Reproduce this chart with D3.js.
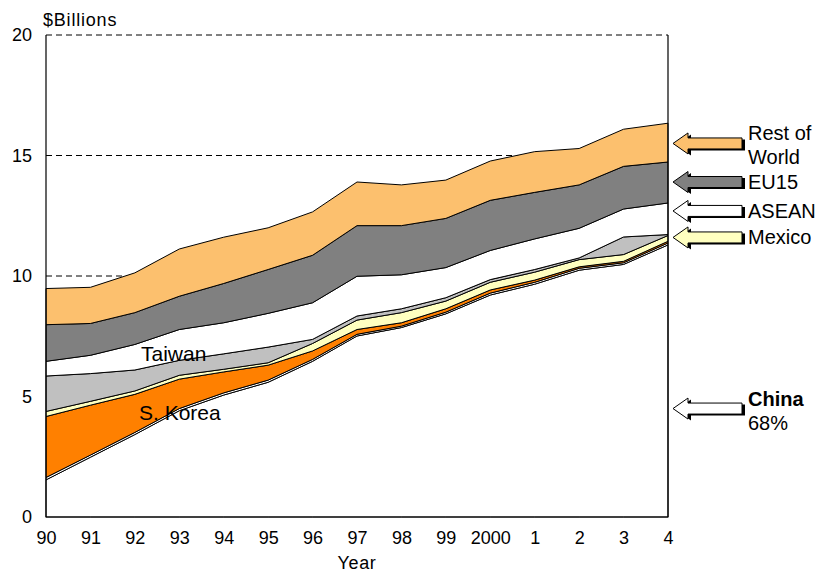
<!DOCTYPE html>
<html>
<head>
<meta charset="utf-8">
<script src="https://cdn.jsdelivr.net/npm/d3@7"></script>
<style>
  body { margin: 0; background: #fff; }
  text { font-family: Arial, "Liberation Sans", sans-serif; fill: #000; }
</style>
</head>
<body>
<script>
// Year tick labels
var years = ["90", "91", "92", "93", "94", "95", "96", "97", "98", "99", "2000", "1", "2", "3", "4"];

// Series values, $ billions, bottom of the stack first
var china    = [1.54, 2.48, 3.42, 4.41, 5.06, 5.59, 6.46, 7.51, 7.86, 8.43, 9.21, 9.66, 10.24, 10.48, 11.29];
var other    = [0.10, 0.09, 0.09, 0.09, 0.09, 0.09, 0.08, 0.07, 0.06, 0.07, 0.08, 0.08, 0.08, 0.07, 0.08];
var sKorea   = [2.53, 2.07, 1.58, 1.22, 0.87, 0.62, 0.35, 0.20, 0.14, 0.14, 0.13, 0.09, 0.06, 0.06, 0.07];
var mexico   = [0.21, 0.16, 0.14, 0.16, 0.11, 0.10, 0.31, 0.39, 0.42, 0.32, 0.32, 0.33, 0.30, 0.28, 0.24];
var taiwan   = [1.47, 1.15, 0.87, 0.62, 0.64, 0.65, 0.17, 0.17, 0.16, 0.14, 0.11, 0.11, 0.07, 0.73, 0.04];
var asean    = [0.61, 0.76, 1.06, 1.28, 1.29, 1.40, 1.52, 1.65, 1.41, 1.25, 1.21, 1.27, 1.23, 1.16, 1.31];
var eu15     = [1.52, 1.32, 1.32, 1.38, 1.63, 1.82, 1.97, 2.10, 2.04, 2.04, 2.08, 1.93, 1.80, 1.77, 1.70];
var restOfWorld = [1.50, 1.50, 1.65, 1.96, 1.92, 1.73, 1.80, 1.81, 1.69, 1.59, 1.63, 1.69, 1.51, 1.54, 1.61];

var yTicks = [0, 5, 10, 15, 20];

// Arrow legend: label lines and the level (in $bn) the arrow points at
var legendLines  = [["Rest of", "World"], ["EU15"], ["ASEAN"], ["Mexico"], ["China", "68%"]];
var legendLevels = [15.5, 13.9, 12.7, 11.6, 4.5];
var legendKeys   = ["restOfWorld", "eu15", "asean", "mexico", "china"];

var keys = ["china", "other", "sKorea", "mexico", "taiwan", "asean", "eu15", "restOfWorld"];
var colors = {
  china: "#ffffff",
  other: "#ffffff",
  sKorea: "#ff8000",
  mexico: "#ffffc0",
  taiwan: "#c0c0c0",
  asean: "#ffffff",
  eu15: "#808080",
  restOfWorld: "#fcc06e"
};
var series = {
  china: china, other: other, sKorea: sKorea, mexico: mexico,
  taiwan: taiwan, asean: asean, eu15: eu15, restOfWorld: restOfWorld
};

// Table for d3.stack
var rows = years.map(function(yr, i) {
  var r = { year: yr };
  keys.forEach(function(k) { r[k] = series[k][i]; });
  return r;
});

var width = 821, height = 574;
var plotLeft = 46, plotRight = 668, plotTop = 35, plotBottom = 517;

var svg = d3.select("body").append("svg")
    .attr("width", width)
    .attr("height", height);

var x = d3.scalePoint().domain(years).range([plotLeft, plotRight]);
var y = d3.scaleLinear().domain([0, 20]).range([plotBottom, plotTop]);

// Dashed gridlines (under the areas)
svg.append("g").selectAll("line")
    .data(yTicks.filter(function(d) { return d > 0; }))
  .enter().append("line")
    .attr("x1", plotLeft)
    .attr("x2", plotRight)
    .attr("y1", function(d) { return y(d); })
    .attr("y2", function(d) { return y(d); })
    .style("stroke", "#000")
    .style("stroke-width", 1)
    .style("stroke-dasharray", "6,4");

// Stacked areas
var stacked = d3.stack().keys(keys)(rows);

var area = d3.area()
    .x(function(d) { return x(d.data.year); })
    .y0(function(d) { return y(d[0]); })
    .y1(function(d) { return y(d[1]); });

svg.append("g").selectAll("path")
    .data(stacked)
  .enter().append("path")
    .attr("d", area)
    .style("fill", function(d) { return colors[d.key]; })
    .style("stroke", "#000")
    .style("stroke-width", 1)
    .style("stroke-linejoin", "miter");

// Frame: left, bottom, right solid
svg.append("path")
    .attr("d", "M" + plotLeft + "," + plotTop + "V" + plotBottom + "H" + plotRight + "V" + plotTop)
    .style("fill", "none")
    .style("stroke", "#000")
    .style("stroke-width", 1.2);

// Axes
var yAxis = svg.append("g")
    .attr("transform", "translate(" + plotLeft + ",0)")
    .call(d3.axisLeft(y).tickValues(yTicks).tickSize(0).tickPadding(14));
var xAxis = svg.append("g")
    .attr("transform", "translate(0," + plotBottom + ")")
    .call(d3.axisBottom(x).tickSize(0).tickPadding(14));
[yAxis, xAxis].forEach(function(g) {
  g.select(".domain").remove();
  g.selectAll("text")
      .style("font-size", "18px")
      .style("font-family", "Arial, 'Liberation Sans', sans-serif")
      .style("fill", "#000");
});

// Axis titles
svg.append("text")
    .attr("x", 43)
    .attr("y", 26)
    .style("font-size", "18px")
    .style("letter-spacing", "0.8px")
    .text("$Billions");

svg.append("text")
    .attr("x", (plotLeft + plotRight) / 2)
    .attr("y", 569)
    .style("text-anchor", "middle")
    .style("font-size", "18px")
    .style("letter-spacing", "0.6px")
    .text("Year");

// Labels inside the chart
svg.append("text")
    .attr("x", 141)
    .attr("y", 361)
    .style("font-size", "21px")
    .text("Taiwan");

svg.append("text")
    .attr("x", 139)
    .attr("y", 420)
    .style("font-size", "21px")
    .text("S. Korea");

// Arrow legend
var tipX = 673, tailX = 742, headLen = 15, headH = 10.5, shaftH = 5.5;
function arrowPath(cy) {
  return "M" + tipX + "," + cy +
    "L" + (tipX + headLen) + "," + (cy - headH) +
    "L" + (tipX + headLen) + "," + (cy - shaftH) +
    "L" + tailX + "," + (cy - shaftH) +
    "L" + tailX + "," + (cy + shaftH) +
    "L" + (tipX + headLen) + "," + (cy + shaftH) +
    "L" + (tipX + headLen) + "," + (cy + headH) + "Z";
}

var legend = svg.append("g").selectAll("g")
    .data(legendKeys)
  .enter().append("g");

legend.append("path")
    .attr("d", function(d, i) { return arrowPath(y(legendLevels[i])); })
    .attr("transform", "translate(3,1.5)")
    .style("fill", "#000");

legend.append("path")
    .attr("d", function(d, i) { return arrowPath(y(legendLevels[i])); })
    .style("fill", function(d) { return colors[d]; })
    .style("stroke", "#000")
    .style("stroke-width", 1);

legend.each(function(d, i) {
  var g = d3.select(this);
  var cy = y(legendLevels[i]);
  var lines = legendLines[i];
  var first = lines.length > 1 ? cy - 3 : cy + 7;
  lines.forEach(function(t, j) {
    g.append("text")
        .attr("x", 748)
        .attr("y", first + j * 24)
        .style("font-size", "20px")
        .style("font-weight", (d === "china" && j === 0) ? "bold" : "normal")
        .text(t);
  });
});
</script>
</body>
</html>
